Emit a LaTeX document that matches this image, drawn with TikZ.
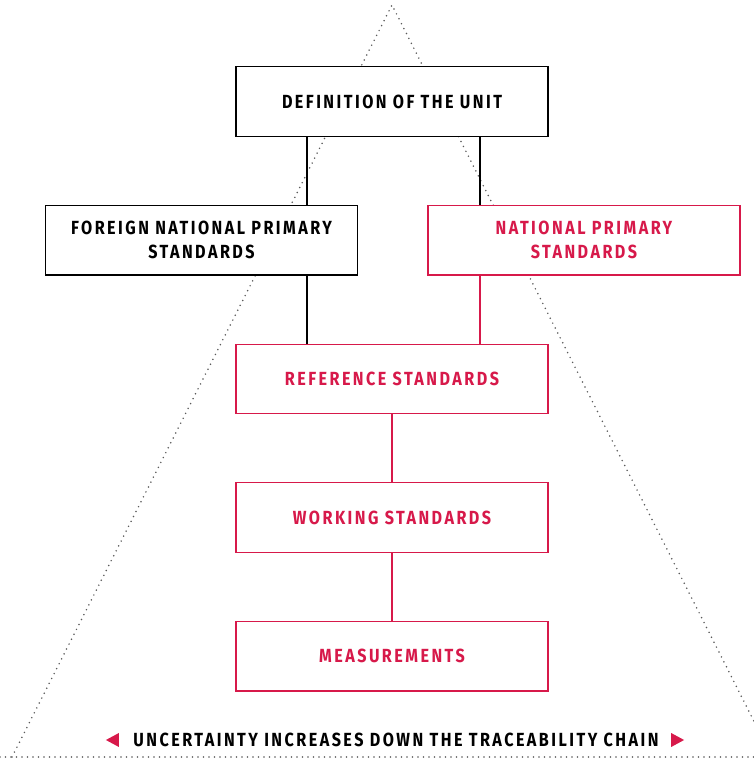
\documentclass[tikz,border=0pt]{standalone}
\usepackage{fontspec}
\setmainfont{Fira Sans}[FakeStretch=0.85, LetterSpace=13]
\usetikzlibrary{positioning, calc}
\definecolor{cRed}{HTML}{D7194A}
\definecolor{cDots}{HTML}{5A5A5A}
\tikzset{
  stdbox/.style={
    draw=#1, line width=1.2pt, fill=white,
    minimum width=312pt, minimum height=69.5pt, inner sep=0pt,
    font=\fontsize{19}{24}\selectfont\bfseries, text=#1, align=center
  },
  link/.style={line width=1.2pt, color=black},
  redlink/.style={line width=1.2pt, color=cRed},
  pyramid/.style={draw=cDots, line width=1.7pt, line cap=round,
    dash pattern=on 0pt off 5.5pt},
}

\begin{document}
\begin{tikzpicture}[x=1pt, y=1pt, node distance=68pt]
\useasboundingbox (0,0) rectangle (754,758);
\clip (0,0) rectangle (754,758);

% ---- traceability pyramid ----
\coordinate (apex) at (392,753);
\coordinate (baseL) at (12,1);
\coordinate (baseR) at (772,1);
\draw[pyramid] (baseL) -- (apex) -- (baseR);
\draw[pyramid] (0,1) -- (754,1);

% ---- chain ----
\node[stdbox=black] (def) at (392,656.5) {DEFINITION OF THE UNIT};
\node[stdbox=black, below=of def, xshift=-190.5pt] (fgn)
  {FOREIGN NATIONAL PRIMARY\\STANDARDS};
\node[stdbox=cRed, below=of def, xshift=192pt] (nat)
  {NATIONAL PRIMARY\\STANDARDS};
\node[stdbox=cRed, below=of fgn, xshift=190.5pt] (ref)
  {REFERENCE STANDARDS};
\node[stdbox=cRed, below=of ref] (wrk) {WORKING STANDARDS};
\node[stdbox=cRed, below=of wrk] (meas) {MEASUREMENTS};

% ---- links ----
\coordinate (fgnX) at ([xshift=-85pt]def.south);
\coordinate (natX) at ([xshift=88pt]def.south);
\draw[link] (fgnX) -- (fgnX |- fgn.north);
\draw[link] (natX) -- (natX |- nat.north);
\draw[link] (fgnX |- fgn.south) -- (fgnX |- ref.north);
\draw[redlink] (natX |- nat.south) -- (natX |- ref.north);
\draw[redlink] (ref) -- (wrk);
\draw[redlink] (wrk) -- (meas);

% ---- uncertainty note ----
\node[font=\fontsize{19}{20}\selectfont\bfseries] (note) at (396,18)
  {UNCERTAINTY INCREASES DOWN THE TRACEABILITY CHAIN};
\fill[cRed] ($(note.west)+(-11,7)$) -- ++(0,-14) -- ++(-13,7) -- cycle;
\fill[cRed] ($(note.east)+(9,7)$) -- ++(0,-14) -- ++(13,7) -- cycle;

\end{tikzpicture}
\end{document}
